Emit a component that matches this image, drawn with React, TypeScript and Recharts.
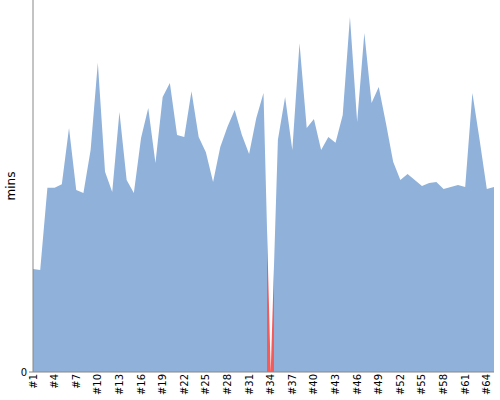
import { Area, AreaChart, XAxis, YAxis } from "recharts";

const sessions = [
  "#1", "#2", "#3", "#4", "#5", "#6", "#7", "#8", "#9", "#10",
  "#11", "#12", "#13", "#14", "#15", "#16", "#17", "#18", "#19", "#20",
  "#21", "#22", "#23", "#24", "#25", "#26", "#27", "#28", "#29", "#30",
  "#31", "#32", "#33", "#34", "#35", "#36", "#37", "#38", "#39", "#40",
  "#41", "#42", "#43", "#44", "#45", "#46", "#47", "#48", "#49", "#50",
  "#51", "#52", "#53", "#54", "#55", "#56", "#57", "#58", "#59", "#60",
  "#61", "#62", "#63", "#64", "#65"
];

const minutes = [
  27.7, 27.4, 49.5, 49.5, 50.5, 65.6, 48.9, 48.1, 59.7, 83.1,
  53.8, 48.4, 69.9, 51.6, 48.1, 62.9, 71.0, 56.2, 73.9, 77.7,
  63.7, 63.2, 75.5, 63.2, 59.1, 51.1, 60.5, 65.9, 70.4, 63.7,
  58.6, 68.3, 75.0, 0, 62.4, 73.9, 59.7, 88.4, 65.6, 68.0,
  59.7, 63.2, 61.6, 69.1, 95.4, 67.2, 91.1, 72.3, 76.6, 66.9,
  56.5, 51.6, 53.2, 51.6, 50.0, 50.8, 51.1, 49.2, 49.7, 50.3,
  49.7, 75.0, 62.4, 49.2, 49.7
];

// sessions with no recorded time get a red band
const missed = ["#34"];

const yTicks = [0];

const BLUE = "#8fb1da";
const RED = "#f45b5b";

const data = sessions.map((name, i) => ({ name, mins: minutes[i] }));

const RotTick = (props: any) => {
  const { x, y, payload } = props;
  return (
    <g transform={`translate(${x},${y})`}>
      <text transform="rotate(-90)" textAnchor="end" dy="0.35em" fontSize={10} fill="#000">
        {payload.value}
      </text>
    </g>
  );
};

const App = () => {
  const last = sessions.length - 1;
  const stops: any[] = [];
  missed.forEach((s, k) => {
    const i = sessions.indexOf(s);
    const a = Math.max(0, (i - 0.5) / last);
    const b = Math.min(1, (i + 0.5) / last);
    stops.push(<stop key={`a${k}`} offset={a} stopColor={BLUE} />);
    stops.push(<stop key={`b${k}`} offset={a} stopColor={RED} />);
    stops.push(<stop key={`c${k}`} offset={b} stopColor={RED} />);
    stops.push(<stop key={`d${k}`} offset={b} stopColor={BLUE} />);
  });

  return (
    <div style={{ position: "absolute", left: 0, top: 0, fontFamily: "DejaVu Sans" }}>
      <AreaChart
        width={500}
        height={400}
        data={data}
        margin={{ top: 0, right: 6, bottom: 0, left: 0 }}
      >
        <defs>
          <linearGradient id="sessFill" x1="0" y1="0" x2="1" y2="0">
            <stop offset={0} stopColor={BLUE} />
            {stops}
            <stop offset={1} stopColor={BLUE} />
          </linearGradient>
        </defs>
        <XAxis
          dataKey="name"
          interval={2}
          tickLine={false}
          tickSize={0}
          height={28}
          stroke="#888"
          tick={<RotTick />}
        />
        <YAxis
          width={33}
          domain={[0, 100]}
          ticks={yTicks}
          tickSize={4}
          stroke="#888"
          tick={{ fill: "#000", fontSize: 10 }}
          label={{ value: "mins", angle: -90, position: "center", dx: -6, fill: "#000", fontSize: 12 }}
        />
        <Area
          type="linear"
          dataKey="mins"
          fill="url(#sessFill)"
          fillOpacity={1}
          stroke="none"
          isAnimationActive={false}
        />
      </AreaChart>
    </div>
  );
};

export default App;
